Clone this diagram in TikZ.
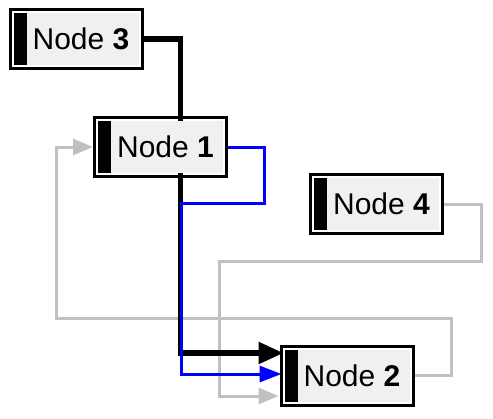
\documentclass[tikz,border=0pt]{standalone}
\usepackage{fontspec}
\setmainfont{Liberation Sans}
\usetikzlibrary{arrows.meta}
\definecolor{lgray}{HTML}{C0C0C0}
\definecolor{boxgray}{HTML}{F0F0F0}
\definecolor{pureblue}{HTML}{0000FF}
\tikzset{
  outerbox/.style={draw=black, line width=3pt, fill=white, minimum width=132pt, minimum height=59pt, inner sep=0pt},
  innerbox/.style={fill=boxgray, minimum width=125pt, minimum height=52pt, inner sep=0pt, outer sep=0pt},
  barbox/.style={fill=black, minimum width=13pt, minimum height=52pt, inner sep=0pt, outer sep=0pt, anchor=north west},
  lbl/.style={font=\fontsize{30}{36}\selectfont, inner sep=0pt, xshift=5pt},
  grayline/.style={draw=lgray, line width=3pt, -{Triangle[length=20pt,width=16pt]}},
  blueline/.style={draw=pureblue, line width=3pt, -{Triangle[length=22pt,width=16pt]}},
  blackline/.style={draw=black, line width=5.5pt},
  blackarrow/.style={draw=black, line width=5.5pt, -{Triangle[length=25pt,width=21pt]}},
}
\begin{document}
\begin{tikzpicture}[x=1pt,y=-1pt]
\useasboundingbox (0,0) rectangle (493,418);
% outer boxes
\node[outerbox] (n3) at (76,39) {};
\node[outerbox] (n1) at (160.5,147) {};
\node[outerbox] (n2) at (347,375.5) {};
\node[outerbox] (n4) at (376.5,204) {};
% connectors
\draw[grayline] (n4.east) -- ++(37,0) -- ++(0,57) -- ++(-262,0) |- ([xshift=-1pt,yshift=-20.5pt]n2.west);
\draw[grayline] (n2.east) -- ++(37,0) -- ++(0,-57.5) -- ++(-395,0) |- (n1.west);
\draw[blackline] (n3.east) -| ([xshift=20pt]n1.center);
\draw[blackarrow] ([xshift=20pt]n1.center) |- ([xshift=4pt,yshift=22.5pt]n2.west);
\draw[blueline] (n1.east) -- ++(36,0) -- ++(0,56) -- ++(-83,0) |- ([xshift=2pt,yshift=1.5pt]n2.west);
% inner parts
\foreach \n/\k in {n3/3, n1/1, n2/2, n4/4}{
  \node[innerbox] (\n i) at (\n) {};
  \node[barbox] (\n bar) at (\n i.north west) {};
  \node[lbl] (\n t) at (\n) {Node \textbf{\k}};
}
\end{tikzpicture}
\end{document}
